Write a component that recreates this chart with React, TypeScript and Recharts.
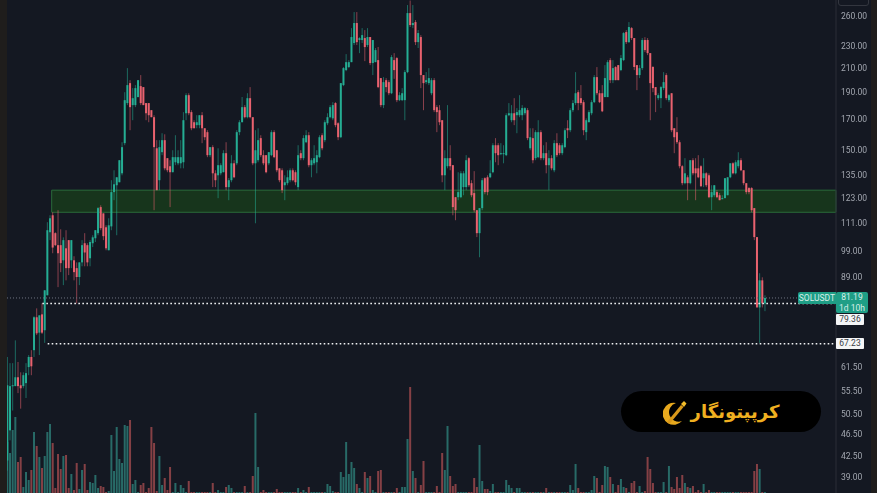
import { Bar, ComposedChart, ReferenceArea, ReferenceLine, XAxis, YAxis } from 'recharts';

// SOLUSDT daily candles
const opens = [
  41.6, 47.1, 56.5, 56.5, 58.6, 56.7, 56.5, 57.2, 61.1, 63.7,
  65.5, 75, 70.4, 75.9, 71.1, 82.1, 106.4, 114.1, 106, 100.9,
  100.9, 94.8, 99.6, 103, 94.8, 94.8, 91.8, 88.5, 94, 101.7,
  100.9, 95.6, 101.7, 103.8, 106, 118, 115, 108.6, 98.8, 109,
  125.5, 129.1, 130.7, 135.6, 153.5, 181, 196.5, 179.5, 179.5, 185.5,
  194.1, 193.3, 181, 181, 175.8, 170.8, 150.3, 131.8, 147.9, 155.4,
  144.3, 139.6, 136.2, 141.9, 141.3, 141.3, 141.9, 173.6, 187, 174.4,
  167.3, 165.3, 165.3, 172.2, 163.2, 160.6, 146.1, 151, 135.6, 134.5,
  135.6, 136.2, 147.3, 128.1, 131.8, 141.3, 141.3, 160.6, 167.3, 178,
  170.8, 184.7, 170.8, 141.3, 143.1, 156.7, 146.1, 146.1, 141.3, 146.1,
  160.6, 149.1, 138.4, 137.3, 129.1, 130.2, 131.8, 137.3, 136.2, 128.1,
  147.3, 144.3, 154.1, 158.6, 140.2, 141.3, 141.9, 144.9, 158.6, 155.4,
  166.6, 170.8, 170, 181, 166.6, 157.3, 194.9, 207.3, 209.9, 214.2,
  231.7, 251.6, 234.6, 234.6, 236.5, 229.8, 237.5, 213.4, 214.2, 216,
  200.6, 179.5, 198.9, 197.3, 188.5, 216, 217.8, 183.2, 183.2, 183.2,
  205.6, 262.1, 249.5, 252.6, 232.6, 237.5, 203.1, 197.3, 196.5, 188.5,
  198.9, 178, 175.8, 168.7, 134.5, 139.6, 144.3, 140.2, 122.9, 122.9,
  122.9, 128.1, 128.1, 144.3, 130.2, 125, 116.5, 106, 117.5, 132.9,
  133.4, 133.4, 136.2, 152.2, 152.2, 146.7, 146.7, 146.1, 172.2, 168.7,
  173.6, 172.2, 172.2, 172.2, 173.6, 175.8, 150.3, 156.7, 144.3, 144.9,
  160.6, 144.3, 147.3, 140.2, 144.3, 137.3, 153.5, 152.2, 147.3, 151,
  163.2, 161.9, 175.8, 181, 189.3, 184.7, 181.7, 160.6, 167.3, 173.6,
  181.7, 201.4, 188.5, 188.5, 185.5, 185.5, 216, 198.9, 209.9, 211.6,
  207.3, 216, 242.4, 232.6, 246.4, 236.5, 211.6, 203.1, 209, 234.6,
  234.6, 222.3, 210, 193.3, 184.7, 184.7, 192.5, 203.1, 183.2, 188.5,
  163.2, 160.6, 154.1, 139.6, 130.2, 133.4, 130.2, 143.1, 138.4, 138.4,
  139.6, 132.9, 135.6, 134.5, 122.9, 123.9, 125.5, 123.9, 121.9, 122.4,
  123.9, 133.4, 141.3, 135.6, 139.6, 143.1, 137.3, 130.2, 127.6, 127.6,
  117.5, 104.3, 78.1, 87.3, 79.4,
];

const closes = [
  56.7, 56.5, 56.7, 58.6, 56.5, 56, 59.1, 59.6, 63.7, 61.3,
  75, 70.2, 75.6, 70.4, 83.8, 107.3, 112.7, 99.9, 100.9, 97.6,
  93.7, 103, 91.8, 91.8, 103, 90.3, 88.5, 94, 100.9, 97.9,
  94, 102.2, 104.2, 107.3, 117.5, 108.2, 104.7, 99.6, 109.5, 125.5,
  129.6, 133.4, 143.1, 151, 183.2, 194.9, 178, 184.7, 192.5, 198.9,
  181, 179.5, 173.6, 172.2, 170.8, 151, 126.5, 151, 155.4, 138.4,
  137.3, 136.2, 144.9, 144.9, 144.9, 144.9, 168.7, 187, 173.6, 163.2,
  163.2, 167.3, 172.2, 163.2, 157.3, 146.1, 151, 135.6, 131.8, 140.2,
  140.2, 147.3, 128.1, 131.8, 141.3, 133.4, 160.6, 167.3, 178, 170.8,
  184.7, 170.8, 141.3, 149.1, 155.4, 146.1, 141.3, 136.2, 147.9, 160.6,
  144.9, 137.3, 131.8, 126.5, 130.7, 133.4, 137.3, 131.8, 130.7, 146.1,
  144.3, 156.7, 158.6, 140.2, 143.1, 144.3, 146.1, 157.3, 150.3, 167.3,
  170.8, 178, 179.5, 165.3, 157.3, 196.5, 209, 214.2, 214.2, 237.5,
  251.6, 232.6, 236.5, 239.4, 227.9, 237.5, 213.4, 234.6, 225.1, 193.3,
  179.5, 197.3, 193.3, 188.5, 218.7, 207.3, 183.2, 187, 188.5, 205.6,
  262.1, 249.5, 251.6, 232.6, 241.4, 203.1, 196.5, 198.9, 200.6, 198.9,
  175.8, 174.4, 167.3, 134.5, 144.3, 144.3, 139.6, 118, 116.5, 125.5,
  135.6, 135.6, 143.1, 129.1, 123.9, 116.5, 106, 117.5, 131.8, 125.5,
  125.5, 135.6, 152.2, 147.3, 146.1, 147.3, 147.3, 172.2, 173.6, 173.6,
  168.7, 174.4, 175.8, 177.3, 177.3, 156.7, 157.3, 143.1, 160.6, 160.6,
  144.3, 147.3, 140.2, 144.3, 138.4, 153.5, 146.1, 147.3, 152.2, 161.9,
  161.9, 175.8, 181, 188.5, 181, 181, 161.9, 168.7, 174.4, 181.7,
  201.4, 188.5, 181.7, 175, 200.6, 214.2, 198.9, 209, 198.9, 198.9,
  217.8, 241.4, 232.6, 247.5, 236.5, 210, 203.1, 209, 234.6, 225.1,
  222.3, 196.5, 192.5, 187, 187, 193.3, 197.3, 184.7, 187, 161.9,
  157.3, 154.1, 139.6, 130.2, 135.6, 130.2, 143.1, 135.6, 135.6, 133.4,
  128.6, 135.6, 129.1, 122.9, 125.5, 129.1, 122.9, 121.4, 122.4, 132.9,
  133.4, 141.3, 135.6, 141.9, 143.1, 137.3, 130.2, 125.5, 125.5, 116.5,
  104.3, 78.1, 87.3, 79.4, 81.19,
];

const highs = [
  63.7, 62.1, 62.1, 68.2, 62.4, 59.8, 59.8, 62.1, 64.2, 65.5,
  75.3, 77.8, 75.6, 79.4, 83.8, 110.9, 114.1, 115.5, 106.4, 116.5,
  107.7, 104.2, 107.3, 103, 103, 96.4, 94, 94, 103, 106,
  101.7, 103, 105.1, 107.3, 118, 118.9, 115, 109.5, 112.7, 131.8,
  137.3, 133.4, 143.1, 154.1, 189.3, 209, 198.9, 192.5, 194.9, 198.9,
  203.1, 193.3, 181, 181, 175.8, 172.2, 155.4, 155.4, 159.9, 159.2,
  144.3, 143.1, 149.1, 158.6, 149.1, 155.4, 174.4, 188.5, 188.5, 175.8,
  168.7, 172.2, 172.2, 174.4, 163.2, 161.9, 151, 152.2, 137.3, 150.3,
  141.3, 149.1, 154.1, 133, 146.1, 143.1, 161.9, 168.7, 185.6, 179.5,
  188.5, 193.3, 170.8, 161.9, 163.2, 158.6, 149.1, 146.1, 147.9, 161.9,
  161.9, 149.1, 138.4, 138.4, 134.5, 137.3, 138.4, 138.4, 137.3, 152.2,
  149.1, 158.6, 161.9, 160.6, 144.3, 152.2, 149.1, 158.6, 159.9, 168.7,
  173.6, 179.5, 181.7, 181.7, 167.3, 196.5, 209.9, 221.4, 216, 246.4,
  263.2, 263.2, 237.4, 246.4, 244.4, 246.4, 237.4, 234.6, 227, 228,
  200.6, 201.4, 200.6, 198.9, 220.5, 222.3, 218.7, 189.3, 192.5, 207.3,
  270.9, 276, 270.9, 254.7, 244.4, 239.4, 203.1, 205.6, 209, 200.6,
  200.6, 179.5, 179.5, 168.7, 149.1, 179.5, 152.2, 140.2, 122.9, 136.2,
  136.8, 136.8, 146.1, 144.9, 131.8, 136.8, 116.5, 117.5, 133, 133.4,
  134.5, 143.1, 153.5, 156.7, 153.5, 153.5, 152.2, 173.6, 181, 179.5,
  184.7, 177.3, 187, 179.5, 178, 177.3, 163.2, 163.2, 161.9, 168.7,
  161.9, 152.2, 154.1, 149.1, 146.1, 155.4, 159.9, 153.5, 153.5, 163.2,
  168.7, 177.3, 183.2, 205.6, 190.9, 194.9, 183.2, 170, 175.8, 183.2,
  203.1, 209.9, 190.9, 194.9, 211.6, 216, 217.8, 216, 210.7, 211.6,
  220.5, 242.4, 244.4, 252.6, 247.5, 236.5, 211.6, 211.6, 236.5, 237.4,
  236.5, 222.3, 210.7, 193.3, 188.5, 194.1, 205.6, 204.7, 187.8, 188.5,
  163.2, 170.8, 155.4, 140.2, 144.3, 134.5, 143.1, 144.3, 144.3, 146.1,
  140.2, 144.3, 136.2, 135.6, 129.1, 129.1, 126.5, 125, 123.9, 132.9,
  133.4, 141.3, 141.9, 143.1, 147.9, 144.3, 137.3, 130.2, 128.1, 128.1,
  117.5, 104.3, 89.9, 88.4, 82.1,
];

const lows = [
  39.9, 45.2, 51.1, 56.5, 54.9, 51.5, 56, 53.8, 59.1, 59.1,
  63.7, 69.7, 64.2, 70, 67.5, 82.1, 103, 97.6, 100.5, 84.9,
  90.3, 85.6, 87.3, 89.2, 91.8, 87.3, 79.4, 85.6, 92.5, 92.5,
  92.5, 92.5, 100.1, 102.2, 105.1, 107.3, 103, 98.8, 98.8, 107.3,
  121.4, 105.1, 130.7, 134.5, 152.2, 179.5, 161.9, 168.7, 178, 185.5,
  179.5, 179.5, 168.7, 167.3, 170.8, 116.5, 126.5, 126.5, 146.1, 137.3,
  136.2, 118, 136.2, 140.2, 140.2, 138.4, 138.4, 168.7, 172.2, 161.9,
  163.2, 163.2, 163.2, 153.5, 155.4, 144.9, 144.9, 128.1, 128.1, 122.4,
  134.5, 136.2, 126.5, 121.4, 130.7, 132.9, 140.2, 158.6, 167.3, 170,
  170, 170, 140.2, 110.4, 141.9, 144.9, 140.2, 135.6, 140.2, 145.5,
  144.3, 136.2, 130.7, 125, 121.4, 129.1, 130.7, 131.2, 129.1, 126.5,
  143.1, 143.1, 153.5, 139, 133.4, 140.2, 135.6, 144.3, 149.1, 154.1,
  165.3, 170, 168.7, 163.9, 155.4, 156.7, 194.1, 206.4, 209, 214.2,
  229.8, 229.8, 222.3, 231.7, 215.1, 227.9, 211.6, 203.1, 214.2, 192.5,
  178, 177.3, 189.3, 187, 187.8, 200, 181.7, 182.5, 182.5, 168.7,
  204.7, 247.5, 246.4, 229.8, 227, 192.5, 175.8, 195.7, 194.9, 187,
  174.4, 160.6, 165.3, 130.7, 126.5, 138.4, 137.3, 114.1, 111.8, 121.4,
  122.4, 123.9, 126.5, 128.1, 122.9, 115.5, 104.3, 96, 116.5, 124.4,
  123.9, 132.9, 135.6, 141.9, 140.2, 146.1, 141.3, 145.5, 171.5, 167.3,
  165.3, 159.9, 170.8, 168.7, 172.2, 155.4, 149.1, 141.3, 143.1, 144.3,
  143.1, 143.1, 135.6, 126.5, 137.3, 136.2, 144.9, 146.1, 146.1, 150.3,
  156.7, 160.6, 174.4, 179.5, 175.8, 179.5, 158.6, 155.4, 167.3, 172.2,
  181, 187, 181, 174.4, 185.6, 185.6, 196.5, 196.5, 198.9, 198.9,
  206.4, 215.1, 230.8, 231.7, 234.6, 207.3, 190.9, 200.6, 207.3, 223.2,
  220.5, 168.7, 189.3, 174.4, 183.2, 177.3, 190.9, 183.2, 181.7, 160.6,
  147.3, 153, 138.4, 129.1, 129.6, 121.4, 129.6, 134.5, 121.4, 132.9,
  128.1, 128.1, 128.1, 122.4, 116.5, 122.9, 122.4, 121.4, 121.9, 122.9,
  123.9, 132.9, 135, 135, 138.4, 136.8, 129.1, 124.4, 124.4, 115.5,
  103, 78.1, 67.5, 78.1, 76.9,
];

const volumes = [
  51, 40, 63, 76, 31, 36, 6, 21, 13, 23,
  61, 47, 36, 25, 37, 61, 69, 50, 5, 39,
  24, 37, 38, 5, 19, 3, 30, 4, 23, 29,
  3, 11, 10, 18, 5, 7, 6, 1, 2, 58,
  22, 66, 34, 30, 68, 67, 73, 9, 13, 1,
  8, 10, 1, 5, 66, 50, 2, 37, 8, 15,
  3, 26, 1, 10, 1, 8, 5, 1, 12, 1,
  1, 1, 1, 1, 1, 1, 1, 10, 1, 3,
  1, 1, 6, 8, 5, 1, 1, 1, 1, 7,
  1, 1, 17, 80, 26, 1, 3, 1, 1, 1,
  1, 4, 1, 1, 1, 1, 1, 1, 1, 5,
  1, 3, 1, 6, 1, 1, 1, 1, 1, 1,
  9, 7, 2, 1, 1, 21, 16, 51, 19, 31,
  25, 9, 5, 1, 21, 15, 17, 3, 1, 22,
  23, 1, 1, 1, 1, 1, 5, 1, 6, 6,
  54, 106, 22, 15, 1, 8, 32, 1, 1, 1,
  1, 7, 1, 40, 23, 67, 17, 7, 9, 1,
  1, 1, 1, 1, 1, 15, 6, 48, 12, 4,
  4, 2, 9, 1, 1, 1, 1, 13, 8, 5,
  1, 5, 5, 1, 1, 1, 1, 1, 1, 1,
  1, 1, 5, 1, 1, 1, 1, 1, 1, 1,
  1, 8, 3, 29, 5, 1, 1, 1, 1, 3,
  17, 15, 1, 8, 27, 26, 16, 9, 1, 8,
  14, 6, 5, 1, 10, 12, 1, 7, 1, 2,
  36, 24, 10, 1, 1, 1, 11, 1, 27, 6,
  4, 16, 5, 18, 10, 6, 5, 7, 1, 3,
  1, 9, 1, 3, 1, 1, 1, 1, 1, 1,
  1, 1, 1, 1, 1, 1, 1, 1, 1, 1,
  22, 29, 24, 1, 1,
];

const priceTicks = [260, 230, 210, 190, 170, 150, 135, 123, 111, 99, 89, 61.5, 55.5, 50.5, 46.5, 42.5, 39];

const LEAD_SLOTS = 2;
const TAIL_SLOTS = 26;
const GREEN = '#25ad93';
const RED = '#e9626f';

const candleRows = opens.map((open, i) => ({
  slot: i + LEAD_SLOTS,
  open,
  close: closes[i],
  high: highs[i],
  low: lows[i],
  range: [lows[i], highs[i]],
  volume: volumes[i],
}));
const leadRows = Array.from({ length: LEAD_SLOTS }, (_, i) => ({ slot: i }));
const tailRows = Array.from({ length: TAIL_SLOTS }, (_, i) => ({ slot: LEAD_SLOTS + opens.length + i }));
const chartData: any[] = [...leadRows, ...candleRows, ...tailRows];
const lastSlot = chartData.length - 1;

// price axis is logarithmic, so the body is placed inside the wick on a log ratio
const Candle = (props: any) => {
  const { x, y, width, height, payload } = props;
  if (!payload || payload.high == null) return null;
  const top = Math.min(y, y + height);
  const span = Math.abs(height);
  const yOf = (v: number) => top + (span * Math.log(payload.high / v)) / Math.log(payload.high / payload.low);
  const up = payload.close >= payload.open;
  const color = up ? GREEN : RED;
  const cx = x + width / 2;
  const bodyTop = yOf(Math.max(payload.open, payload.close));
  const bodyBottom = yOf(Math.min(payload.open, payload.close));
  return (
    <g>
      <rect x={cx - 0.5} y={top} width={1} height={span} fill={color} opacity={0.55} />
      <rect x={cx - 1} y={bodyTop} width={2} height={Math.max(bodyBottom - bodyTop, 1)} fill={color} />
    </g>
  );
};

const VolumeBar = (props: any) => {
  const { x, y, width, height, payload } = props;
  if (!payload || payload.volume == null) return null;
  const up = payload.close >= payload.open;
  return <rect x={x} y={y} width={width} height={height} fill={up ? '#286a67' : '#854045'} />;
};

const tagStyle: any = {
  position: 'absolute',
  fontFamily: 'Roboto, sans-serif',
  fontSize: 8.5,
  textAlign: 'center',
};

const App = () => {
  return (
    <div style={{ position: 'absolute', left: 0, top: 0, width: 877, height: 493, overflow: 'hidden', background: '#141822' }}>
      <div style={{ filter: 'blur(0.5px)' }}>
        <ComposedChart width={877} height={493} data={chartData} margin={{ top: 0, right: 0, bottom: 0, left: 1 }}>
          <XAxis xAxisId="volume" dataKey="slot" hide />
          <XAxis xAxisId="price" dataKey="slot" hide />
          <YAxis
            yAxisId="price"
            orientation="right"
            width={41}
            scale="log"
            domain={[36.4, 276.6]}
            allowDataOverflow
            ticks={priceTicks}
            interval={0}
            tickFormatter={(v: number) => v.toFixed(2)}
            tick={{ fill: '#a2a6af', fontSize: 8.5, fontFamily: 'Roboto, sans-serif', dy: 1 }}
            tickLine={false}
            tickSize={0}
            tickMargin={5}
            axisLine={{ stroke: '#2a2d36' }}
          />
          <YAxis yAxisId="volume" hide domain={[0, 493]} />
          <Bar xAxisId="volume" yAxisId="volume" dataKey="volume" barSize={2} shape={<VolumeBar />} isAnimationActive={false} />
          <ReferenceArea
            xAxisId="price"
            yAxisId="price"
            x1={19}
            x2={lastSlot}
            y1={115.5}
            y2={126.5}
            fill="#17351c"
            fillOpacity={1}
            stroke="#2a6b3a"
            strokeWidth={1}
          />
          <Bar xAxisId="price" yAxisId="price" dataKey="range" barSize={2} shape={<Candle />} isAnimationActive={false} />
          <ReferenceLine xAxisId="price" yAxisId="price" y={81.19} stroke="#6f7480" strokeDasharray="1 2" />
          <ReferenceLine
            xAxisId="price"
            yAxisId="price"
            segment={[{ x: 15, y: 79.36 }, { x: lastSlot, y: 79.36 }]}
            stroke="#f2f3f5"
            strokeWidth={1.5}
            strokeDasharray="1.6 2.4"
          />
          <ReferenceLine
            xAxisId="price"
            yAxisId="price"
            segment={[{ x: 17, y: 67.23 }, { x: lastSlot, y: 67.23 }]}
            stroke="#f2f3f5"
            strokeWidth={1.5}
            strokeDasharray="1.6 2.4"
          />
        </ComposedChart>
      </div>

      <div style={{ position: 'absolute', left: 0, top: 0, width: 7, height: 493, background: '#1f1d1c' }} />
      <div style={{ position: 'absolute', left: 871, top: 0, width: 6, height: 493, background: '#1f1d1c' }} />
      <div style={{ position: 'absolute', left: 838, top: -6, width: 29, height: 10, border: '1px solid #33363f', borderRadius: 3 }} />

      <div style={{ ...tagStyle, left: 798, top: 292, width: 38, height: 12, lineHeight: '12px', background: '#1f9e86', color: '#d9efe9', borderRadius: '2px 0 0 2px' }}>
        SOLUSDT
      </div>
      <div style={{ ...tagStyle, left: 836, top: 292, width: 32, height: 21, lineHeight: '10.5px', background: '#1f9e86', color: '#d9efe9', borderRadius: 2 }}>
        <div>81.19</div>
        <div>1d 10h</div>
      </div>
      <div style={{ ...tagStyle, left: 836, top: 314, width: 28, height: 11, lineHeight: '11px', background: '#f4f5f6', color: '#3a3d45', borderRadius: 1 }}>
        79.36
      </div>
      <div style={{ ...tagStyle, left: 836, top: 338, width: 28, height: 11, lineHeight: '11px', background: '#f4f5f6', color: '#3a3d45', borderRadius: 1 }}>
        67.23
      </div>

      <div
        style={{
          position: 'absolute',
          left: 621,
          top: 391,
          width: 200,
          height: 41,
          borderRadius: 21,
          background: '#000',
          display: 'flex',
          alignItems: 'center',
          justifyContent: 'center',
          gap: 4,
        }}
      >
        <svg width={24} height={26} viewBox="0 0 24 26">
          <path d="M13 4 A11 11 0 1 0 19 22 A9.5 9.5 0 1 1 13 4 Z" fill="#e8a91e" />
          <path d="M4 23 L18 6 L20.5 8 L6.5 25 Z" fill="#d8981a" />
          <path d="M18 5 L21 2 L23.5 4.5 L21 8 Z" fill="#f2bc2a" />
        </svg>
        <span dir="rtl" style={{ fontFamily: '"DejaVu Sans", sans-serif', fontWeight: 700, fontSize: 18, color: '#f0b020' }}>
          کرپپتونگار
        </span>
      </div>
    </div>
  );
};

export default App;
